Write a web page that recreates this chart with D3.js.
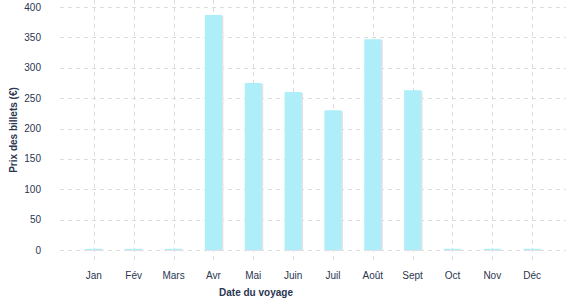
<!DOCTYPE html>
<html>
<head>
<meta charset="utf-8">
<script src="https://cdn.jsdelivr.net/npm/d3@7"></script>
<style>
    body { margin: 0; background: #fff; }
    svg text { font-family: "Liberation Sans", Arial, sans-serif; fill: #2b3650; }
    .grid line { stroke: #dcdcdc; stroke-dasharray: 4,4; shape-rendering: crispEdges; }
</style>
</head>
<body>
<script>
(function(){

    //chart data
    var months = ["Jan", "Fév", "Mars", "Avr", "Mai", "Juin", "Juil", "Août", "Sept", "Oct", "Nov", "Déc"];
    var prices = [2, 2, 2, 387, 275, 260, 230, 347, 263, 2, 2, 2];
    var yTicks = [0, 50, 100, 150, 200, 250, 300, 350, 400];

    var width = 577,
        height = 300;

    var svg = d3.select("body")
        .append("svg")
        .attr("width", width)
        .attr("height", height);

    //scales
    var x = d3.scalePoint()
        .domain(months)
        .range([60, 566])
        .padding(0.85);

    var y = d3.scaleLinear()
        .domain([0, 400])
        .range([250, 7]);

    var barWidth = 17;

    //horizontal grid lines
    svg.append("g")
        .attr("class", "grid")
        .selectAll("line")
        .data(yTicks)
        .enter()
        .append("line")
        .attr("x1", 60)
        .attr("x2", 566)
        .attr("y1", function(d){ return Math.round(y(d)) + 0.5; })
        .attr("y2", function(d){ return Math.round(y(d)) + 0.5; });

    //vertical grid lines
    svg.append("g")
        .attr("class", "grid")
        .selectAll("line")
        .data(months)
        .enter()
        .append("line")
        .attr("x1", function(d){ return Math.round(x(d)) + 0.5; })
        .attr("x2", function(d){ return Math.round(x(d)) + 0.5; })
        .attr("y1", 0)
        .attr("y2", 262);

    //bar shadows
    svg.selectAll(".shadow")
        .data(prices)
        .enter()
        .append("rect")
        .attr("class", "shadow")
        .attr("x", function(d, i){ return x(months[i]) - barWidth / 2 + 1.5; })
        .attr("y", function(d){ return y(d) + 1; })
        .attr("width", barWidth)
        .attr("height", function(d){ return y(0) - y(d); })
        .style("fill", "#e2e2e6");

    //bars
    svg.selectAll(".bar")
        .data(prices)
        .enter()
        .append("rect")
        .attr("class", "bar")
        .attr("x", function(d, i){ return x(months[i]) - barWidth / 2; })
        .attr("y", function(d){ return y(d); })
        .attr("width", barWidth)
        .attr("height", function(d){ return y(0) - y(d); })
        .style("fill", "#aeeef8");

    //y tick labels
    svg.selectAll(".ylabel")
        .data(yTicks)
        .enter()
        .append("text")
        .attr("class", "ylabel")
        .attr("x", 41)
        .attr("y", function(d){ return y(d) + 3.5; })
        .attr("text-anchor", "end")
        .style("font-size", "10px")
        .text(function(d){ return d; });

    //x tick labels
    svg.selectAll(".xlabel")
        .data(months)
        .enter()
        .append("text")
        .attr("class", "xlabel")
        .attr("x", function(d){ return x(d); })
        .attr("y", 279)
        .attr("text-anchor", "middle")
        .style("font-size", "10px")
        .text(function(d){ return d; });

    //axis titles
    svg.append("text")
        .attr("x", 256)
        .attr("y", 296)
        .attr("text-anchor", "middle")
        .style("font-size", "10px")
        .style("font-weight", "bold")
        .text("Date du voyage");

    svg.append("text")
        .attr("transform", "translate(17,130) rotate(-90)")
        .attr("text-anchor", "middle")
        .style("font-size", "10px")
        .style("font-weight", "bold")
        .text("Prix des billets (€)");

})();
</script>
</body>
</html>
